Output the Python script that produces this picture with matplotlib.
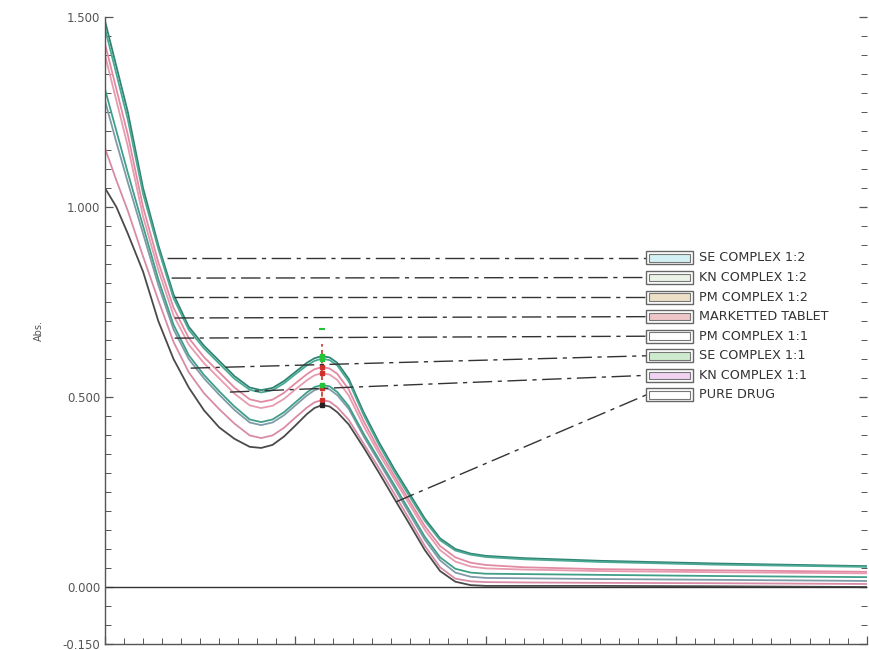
import matplotlib.pyplot as plt
from matplotlib.patches import Rectangle
from matplotlib.ticker import MultipleLocator, NullFormatter, FixedLocator

# wavelength grid (nm) and absorbance of each sample
wavelength = [200, 203, 206, 210, 214, 218, 222, 226, 230, 234, 238, 241, 244, 247, 250, 253, 255,
              257, 259, 261, 264, 268, 272, 276, 280, 284, 288, 292, 296, 300, 310, 330, 360, 400]

se_complex_12 = [1.49, 1.37, 1.25, 1.05, 0.90, 0.77, 0.685, 0.635, 0.595, 0.555, 0.525, 0.518, 0.524,
                 0.542, 0.566, 0.590, 0.602, 0.608, 0.604, 0.590, 0.548, 0.458, 0.380, 0.310, 0.245,
                 0.180, 0.128, 0.100, 0.088, 0.082, 0.076, 0.069, 0.062, 0.055]
kn_complex_12 = [1.47, 1.35, 1.23, 1.035, 0.89, 0.76, 0.677, 0.628, 0.588, 0.548, 0.519, 0.512, 0.518,
                 0.536, 0.560, 0.583, 0.595, 0.601, 0.597, 0.583, 0.541, 0.451, 0.373, 0.303, 0.238,
                 0.174, 0.123, 0.096, 0.085, 0.079, 0.073, 0.066, 0.059, 0.053]
pm_complex_12 = [1.43, 1.31, 1.19, 1.00, 0.855, 0.735, 0.655, 0.605, 0.565, 0.525, 0.494, 0.487, 0.493,
                 0.511, 0.536, 0.560, 0.573, 0.579, 0.575, 0.561, 0.520, 0.435, 0.360, 0.292, 0.226,
                 0.160, 0.108, 0.078, 0.064, 0.058, 0.052, 0.047, 0.044, 0.040]
marketted_tablet = [1.40, 1.28, 1.16, 0.975, 0.835, 0.715, 0.638, 0.589, 0.549, 0.509, 0.478, 0.471,
                    0.477, 0.495, 0.520, 0.544, 0.557, 0.563, 0.559, 0.545, 0.504, 0.422, 0.350, 0.283,
                    0.217, 0.150, 0.097, 0.067, 0.054, 0.049, 0.046, 0.042, 0.039, 0.036]
pm_complex_11 = [1.28, 1.17, 1.065, 0.93, 0.795, 0.678, 0.60, 0.549, 0.506, 0.466, 0.433, 0.426, 0.433,
                 0.452, 0.478, 0.504, 0.518, 0.524, 0.520, 0.505, 0.469, 0.395, 0.328, 0.260, 0.192,
                 0.124, 0.070, 0.038, 0.027, 0.024, 0.023, 0.021, 0.019, 0.016]
se_complex_11 = [1.31, 1.20, 1.09, 0.95, 0.81, 0.69, 0.61, 0.558, 0.515, 0.475, 0.441, 0.434, 0.441,
                 0.460, 0.486, 0.512, 0.526, 0.532, 0.528, 0.513, 0.476, 0.402, 0.335, 0.268, 0.200,
                 0.132, 0.078, 0.048, 0.038, 0.035, 0.034, 0.032, 0.029, 0.026]
kn_complex_11 = [1.155, 1.07, 0.99, 0.87, 0.755, 0.645, 0.565, 0.51, 0.468, 0.43, 0.399, 0.392, 0.399,
                 0.419, 0.446, 0.472, 0.486, 0.492, 0.488, 0.473, 0.440, 0.376, 0.312, 0.245, 0.177,
                 0.108, 0.052, 0.022, 0.015, 0.013, 0.012, 0.011, 0.010, 0.008]
pure_drug = [1.05, 1.00, 0.93, 0.83, 0.70, 0.60, 0.525, 0.465, 0.42, 0.39, 0.369, 0.366, 0.374, 0.396,
             0.425, 0.455, 0.471, 0.479, 0.475, 0.460, 0.428, 0.366, 0.300, 0.232, 0.165, 0.097, 0.042,
             0.014, 0.005, 0.003, 0.003, 0.003, 0.002, 0.000]

labels = ['SE COMPLEX 1:2', 'KN COMPLEX 1:2', 'PM COMPLEX 1:2', 'MARKETTED TABLET',
          'PM COMPLEX 1:1', 'SE COMPLEX 1:1', 'KN COMPLEX 1:1', 'PURE DRUG']
series = [se_complex_12, kn_complex_12, pm_complex_12, marketted_tablet,
          pm_complex_11, se_complex_11, kn_complex_11, pure_drug]
line_colors = ['#2f8373', '#4aa893', '#e28aa2', '#e79bb0', '#7f9aa8', '#3f9f88', '#d98ba6', '#4a4a4a']
box_colors = ['#d3f1f4', '#eaf3e6', '#ece0c6', '#efc6c8', '#ffffff', '#cfebcf', '#f1d2f1', '#ffffff']
peak_colors = ['#23c43a', '#23c43a', '#d0312d', '#d0312d', '#d0312d', '#23c43a', '#d0312d', '#222222']

# where each leader line touches the trace (nm, Abs)
leader_x = [216.2, 217.5, 218.0, 218.3, 218.3, 222.5, 232.8, 276.4]
leader_y = [0.866, 0.813, 0.763, 0.708, 0.655, 0.576, 0.513, 0.224]

peak_nm = 257

fig = plt.figure(figsize=(8.69, 6.5), dpi=100)
ax = fig.add_axes([0.1208, 0.0092, 0.8765, 0.9646])

for y, c in zip(series, line_colors):
    ax.plot(wavelength, y, color=c, lw=1.3, solid_joinstyle='round')

ax.axhline(0, color='#333333', lw=1.0)

# peak pick marks
peak_vals = [y[wavelength.index(peak_nm)] for y in series]
ax.vlines(peak_nm, min(peak_vals), 0.64, color='#c0392b', lw=1.2, linestyles=(0, (3, 2)))
for v, mc in zip(peak_vals, peak_colors):
    ax.plot(peak_nm, v, marker='s', ms=3, color=mc, mec=mc)
ax.plot(peak_nm, 0.68, marker='_', ms=5, mew=1.5, color='#23c43a')

ax.set_xlim(200, 400)
ax.set_ylim(-0.15, 1.5)

ax.xaxis.set_major_locator(MultipleLocator(50))
ax.xaxis.set_minor_locator(MultipleLocator(5))
ax.xaxis.set_major_formatter(NullFormatter())
ax.yaxis.set_major_locator(FixedLocator([-0.15, 0.0, 0.5, 1.0, 1.5]))
ax.yaxis.set_minor_locator(MultipleLocator(0.05))
ax.set_yticklabels(['-0.150', '0.000', '0.500', '1.000', '1.500'])
ax.tick_params(which='both', direction='in', right=True, colors='#555555',
               labelsize=8.5, labelcolor='#555555')
ax.tick_params(which='major', length=6, width=0.9)
ax.tick_params(which='minor', length=4, width=0.7)
ax.spines['top'].set_visible(False)
ax.spines['right'].set_visible(False)
for s in ('left', 'bottom'):
    ax.spines[s].set_color('#555555')
    ax.spines[s].set_linewidth(1.0)

ax.set_ylabel('Abs.', fontsize=7, color='#555555', labelpad=13)

# legend boxes with leader lines
box_x0, box_x1, text_x = 342.1, 354.4, 355.9
row_top, row_step = 0.866, 0.0515
for i, (lab, bc) in enumerate(zip(labels, box_colors)):
    yc = row_top - i * row_step
    ax.add_patch(Rectangle((box_x0, yc - 0.017), box_x1 - box_x0, 0.034,
                           fc='white', ec='#666666', lw=1.0, zorder=5))
    ax.add_patch(Rectangle((box_x0 + 0.8, yc - 0.010), box_x1 - box_x0 - 1.6, 0.020,
                           fc=bc, ec='#777777', lw=0.8, zorder=6))
    ax.text(text_x, yc, lab, fontsize=9.2, color='#333333', va='center', ha='left', zorder=6,
            family='DejaVu Sans')
    ax.plot([leader_x[i], box_x0], [leader_y[i], yc], color='#333333', lw=1.0,
            linestyle=(0, (14, 4, 3, 4)), zorder=4)

fig.savefig('out.png', dpi=100)
